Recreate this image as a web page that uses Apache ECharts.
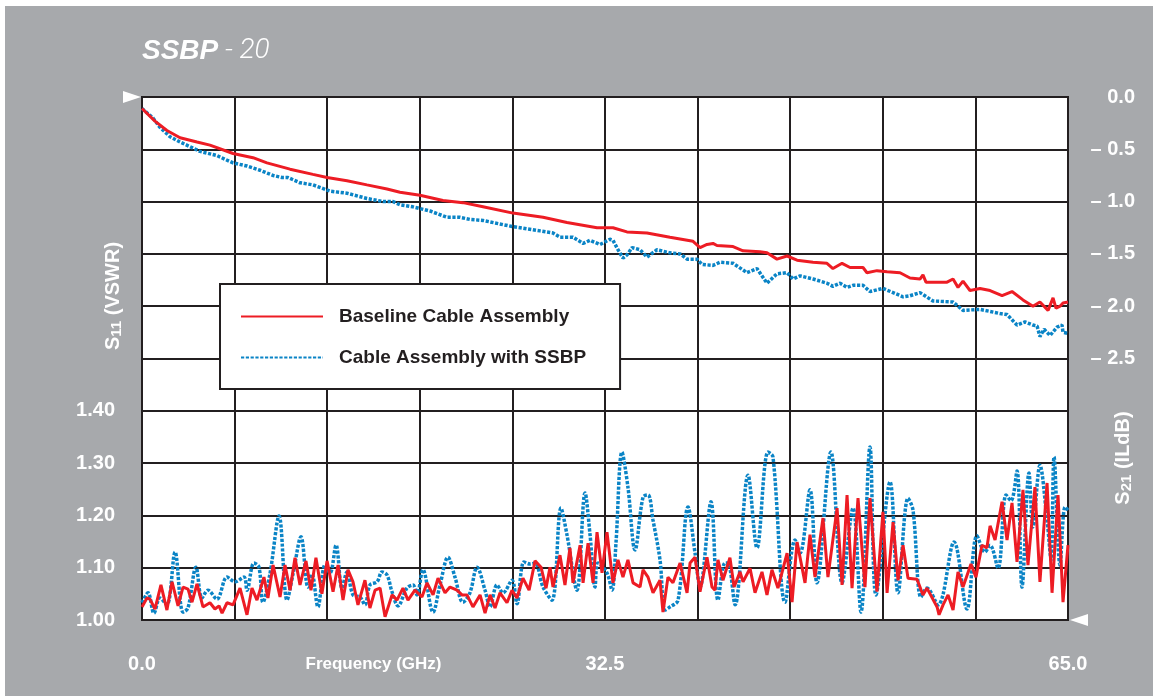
<!DOCTYPE html>
<html>
<head>
<meta charset="utf-8">
<script src="https://cdn.jsdelivr.net/npm/echarts@6/dist/echarts.min.js"></script>
<style>
html,body{margin:0;padding:0;background:#fff;}
#c{position:absolute;left:0;top:0;width:1153px;height:696px;}
</style>
</head>
<body>
<div id="c"></div>
<script>
// ---------------- DATA ----------------
const freqTickLabels = ['0.0', 'Frequency (GHz)', '32.5', '', '65.0'];
const vswrTickLabels = ['1.00', '1.10', '1.20', '1.30', '1.40'];
const ilTickLabels = ['0.0', '\u2013 0.5', '\u2013 1.0', '\u2013 1.5', '\u2013 2.0', '\u2013 2.5'];
const seriesNames = ['Baseline Cable Assembly', 'Cable Assembly with SSBP'];

// S21 insertion loss (dB) vs frequency (GHz), baseline
const baseS21 = [[0,-0.11],[0.91,-0.23],[1.75,-0.32],[2.67,-0.39],[3.86,-0.43],[4.77,-0.46],[6.39,-0.54],[7.79,-0.58],[8.77,-0.63],[10.39,-0.69],[12.00,-0.74],[12.99,-0.77],[14.39,-0.80],[15.79,-0.84],[17.20,-0.88],[18.11,-0.91],[19.51,-0.94],[21.13,-0.99],[22.53,-1.01],[23.94,-1.05],[26.04,-1.11],[28.15,-1.15],[29.83,-1.20],[31.94,-1.25],[33.06,-1.25],[34.04,-1.29],[35.45,-1.30],[37.06,-1.34],[38.68,-1.38],[39.17,-1.44],[39.66,-1.41],[40.08,-1.40],[40.36,-1.42],[41.49,-1.43],[42.19,-1.47],[43.38,-1.48],[43.87,-1.49],[44.57,-1.55],[45.28,-1.52],[45.98,-1.56],[47.10,-1.58],[48.08,-1.59],[48.50,-1.64],[49.14,-1.59],[49.70,-1.63],[50.61,-1.63],[50.89,-1.68],[51.59,-1.66],[52.30,-1.67],[53.21,-1.68],[53.91,-1.73],[54.61,-1.74],[54.82,-1.70],[55.03,-1.77],[56.51,-1.77],[56.93,-1.74],[57.28,-1.82],[57.63,-1.76],[58.12,-1.85],[58.82,-1.83],[59.53,-1.85],[60.37,-1.90],[61.07,-1.86],[61.84,-1.94],[62.54,-2.00],[63.03,-1.96],[63.60,-2.04],[63.95,-1.92],[64.16,-2.02],[64.44,-2.00],[64.65,-1.97],[65.00,-1.96]];

// S21 insertion loss (dB), with SSBP
const ssbpS21 = [[0,-0.11],[0.77,-0.20],[1.26,-0.29],[1.97,-0.38],[2.67,-0.43],[4.07,-0.52],[5.26,-0.56],[6.39,-0.63],[7.37,-0.66],[8.28,-0.70],[9.20,-0.75],[9.83,-0.77],[10.25,-0.77],[11.09,-0.82],[12.00,-0.84],[13.20,-0.90],[14.39,-0.92],[15.79,-0.97],[16.92,-1.00],[17.62,-1.00],[18.11,-1.03],[19.02,-1.05],[20.22,-1.09],[21.41,-1.15],[22.32,-1.15],[23.02,-1.17],[23.94,-1.18],[26.04,-1.24],[27.94,-1.28],[28.85,-1.30],[29.34,-1.34],[30.25,-1.34],[30.96,-1.40],[31.45,-1.37],[32.15,-1.41],[32.85,-1.36],[33.06,-1.37],[33.41,-1.46],[33.76,-1.54],[34.04,-1.51],[34.40,-1.44],[34.96,-1.46],[35.45,-1.53],[36.15,-1.46],[37.06,-1.49],[37.77,-1.50],[38.26,-1.55],[38.96,-1.55],[39.31,-1.60],[40.08,-1.61],[40.57,-1.58],[41.49,-1.59],[42.47,-1.68],[43.17,-1.64],[43.87,-1.78],[44.57,-1.69],[45.28,-1.68],[45.70,-1.74],[46.19,-1.71],[47.10,-1.74],[48.08,-1.78],[48.50,-1.81],[49.00,-1.78],[49.49,-1.82],[49.91,-1.80],[50.61,-1.80],[51.10,-1.86],[52.01,-1.83],[52.72,-1.87],[53.42,-1.91],[53.91,-1.90],[54.61,-1.87],[55.52,-1.95],[56.93,-1.96],[57.63,-2.04],[58.82,-2.03],[60.23,-2.07],[60.72,-2.08],[61.42,-2.18],[61.98,-2.15],[62.54,-2.18],[62.83,-2.19],[63.03,-2.29],[63.32,-2.22],[63.74,-2.28],[64.23,-2.20],[64.58,-2.18],[64.65,-2.25],[65.00,-2.26]];

// S11 VSWR, baseline
const baseS11 = [[0,1.025],[0.35,1.042],[0.56,1.040],[0.91,1.021],[1.33,1.067],[1.75,1.019],[2.11,1.073],[2.53,1.027],[2.88,1.063],[3.23,1.059],[3.51,1.034],[3.86,1.069],[4.28,1.025],[4.77,1.033],[5.12,1.021],[5.41,1.027],[5.62,1.013],[5.97,1.033],[6.39,1.029],[6.88,1.061],[7.37,1.010],[7.72,1.061],[8.07,1.038],[8.56,1.082],[8.84,1.042],[9.20,1.105],[9.69,1.044],[10.04,1.105],[10.39,1.057],[10.74,1.119],[11.09,1.067],[11.51,1.113],[11.86,1.057],[12.21,1.119],[12.63,1.050],[12.99,1.113],[13.41,1.054],[13.76,1.105],[14.11,1.038],[14.46,1.096],[14.81,1.073],[15.16,1.029],[15.65,1.076],[16.00,1.023],[16.36,1.057],[16.71,1.061],[17.06,1.006],[17.55,1.048],[17.90,1.038],[18.32,1.061],[18.67,1.038],[19.16,1.057],[19.65,1.044],[20.01,1.071],[20.43,1.048],[20.78,1.080],[21.27,1.052],[21.62,1.063],[22.11,1.057],[22.46,1.048],[22.81,1.048],[23.23,1.025],[23.73,1.048],[24.08,1.013],[24.43,1.048],[24.78,1.023],[25.13,1.052],[25.62,1.033],[25.97,1.057],[26.32,1.042],[26.74,1.080],[27.17,1.057],[27.59,1.113],[28.01,1.101],[28.36,1.061],[28.64,1.101],[28.85,1.063],[29.34,1.124],[29.69,1.067],[30.04,1.138],[30.25,1.071],[30.75,1.143],[30.96,1.071],[31.31,1.147],[31.66,1.071],[31.94,1.168],[32.29,1.090],[32.64,1.168],[33.06,1.071],[33.41,1.115],[33.76,1.082],[34.11,1.115],[34.47,1.071],[34.96,1.063],[35.17,1.096],[35.52,1.082],[35.87,1.052],[36.36,1.076],[36.57,1.015],[36.92,1.082],[37.27,1.071],[37.77,1.109],[38.26,1.052],[38.47,1.109],[38.82,1.120],[39.17,1.054],[39.66,1.120],[40.01,1.063],[40.22,1.057],[40.43,1.115],[40.78,1.076],[41.27,1.119],[41.56,1.063],[41.98,1.092],[42.19,1.073],[42.68,1.099],[43.03,1.052],[43.52,1.092],[43.87,1.048],[44.22,1.096],[44.64,1.061],[45.28,1.128],[45.63,1.034],[45.98,1.149],[46.54,1.071],[46.89,1.163],[47.24,1.082],[47.80,1.195],[48.15,1.082],[48.79,1.214],[49.14,1.067],[49.49,1.239],[49.84,1.061],[50.26,1.233],[50.75,1.063],[51.10,1.233],[51.59,1.054],[52.01,1.207],[52.30,1.052],[52.72,1.187],[53.07,1.076],[53.42,1.143],[53.77,1.080],[54.40,1.078],[54.82,1.048],[55.10,1.061],[55.81,1.025],[55.95,1.010],[56.23,1.029],[56.58,1.048],[56.93,1.019],[57.28,1.092],[57.63,1.063],[58.19,1.107],[58.54,1.082],[58.96,1.143],[59.31,1.138],[59.53,1.180],[59.88,1.153],[60.37,1.226],[60.72,1.153],[61.07,1.224],[61.42,1.111],[61.84,1.249],[62.19,1.105],[62.68,1.254],[63.03,1.073],[63.53,1.262],[63.88,1.052],[64.30,1.239],[64.65,1.034],[65.00,1.143]];

// S11 VSWR, with SSBP
const ssbpS11 = [[0,1.033],[0.42,1.052],[0.84,1.013],[1.26,1.042],[1.75,1.029],[2.32,1.130],[2.88,1.015],[3.23,1.023],[3.79,1.101],[4.21,1.042],[4.63,1.057],[5.26,1.040],[5.97,1.082],[6.53,1.073],[7.16,1.082],[7.37,1.057],[7.86,1.109],[8.21,1.101],[8.49,1.034],[8.98,1.088],[9.62,1.199],[10.18,1.038],[10.60,1.088],[11.16,1.159],[11.65,1.063],[11.93,1.088],[12.35,1.025],[12.85,1.105],[13.20,1.090],[13.62,1.143],[14.04,1.061],[14.39,1.092],[14.81,1.048],[15.30,1.044],[15.65,1.029],[16.00,1.067],[16.50,1.073],[16.85,1.092],[17.20,1.086],[17.55,1.054],[17.97,1.027],[18.60,1.061],[19.02,1.067],[19.30,1.048],[19.72,1.096],[20.43,1.015],[20.92,1.067],[21.48,1.120],[21.97,1.082],[22.53,1.034],[23.02,1.052],[23.52,1.101],[24.08,1.057],[24.43,1.025],[24.92,1.067],[25.34,1.052],[25.97,1.076],[26.32,1.031],[26.81,1.111],[27.24,1.107],[27.59,1.109],[28.15,1.063],[28.78,1.038],[29.41,1.214],[29.83,1.163],[30.53,1.057],[31.10,1.243],[31.45,1.163],[31.80,1.063],[32.01,1.109],[32.64,1.090],[32.99,1.057],[33.27,1.147],[33.69,1.321],[34.11,1.254],[34.61,1.134],[35.17,1.235],[35.52,1.239],[35.87,1.191],[36.36,1.115],[36.71,1.019],[37.06,1.025],[37.63,1.038],[38.33,1.216],[38.82,1.128],[39.17,1.063],[39.94,1.226],[40.43,1.038],[40.92,1.109],[41.13,1.109],[41.63,1.029],[42.54,1.277],[43.17,1.138],[43.94,1.321],[44.29,1.312],[45.14,1.034],[45.84,1.153],[46.19,1.128],[46.89,1.249],[47.38,1.071],[48.36,1.321],[49.14,1.071],[49.91,1.214],[50.47,1.015],[51.10,1.331],[51.52,1.048],[52.51,1.264],[53.07,1.052],[53.77,1.233],[54.12,1.210],[54.68,1.044],[55.10,1.061],[55.88,1.029],[57.00,1.149],[57.91,1.021],[58.61,1.161],[59.17,1.130],[59.53,1.143],[60.09,1.099],[60.65,1.239],[61.00,1.228],[61.42,1.285],[61.77,1.063],[62.26,1.281],[62.54,1.178],[63.03,1.296],[63.53,1.191],[63.81,1.115],[64.02,1.312],[64.44,1.105],[64.79,1.216],[65.00,1.210]];

// ---------------- CHART ----------------
const FONT = "'Liberation Sans', Arial, sans-serif";
const DARK = '#231f20';
const GRAY = '#a7a9ac';
const RED = '#ed1c24';
const BLUE = '#0a84c6';

const chart = echarts.init(document.getElementById('c'), null, {renderer: 'canvas'});

const redLine = {color: RED, width: 3};
const blueLine = {color: BLUE, width: 3.5, type: [3.2, 1.6]};

const option = {
  animation: false,
  backgroundColor: GRAY,
  textStyle: {fontFamily: FONT},
  grid: {left: 142, top: 97, width: 926, height: 523, show: true, backgroundColor: '#fff', borderColor: DARK, borderWidth: 2, containLabel: false},
  legend: {
    data: seriesNames,
    orient: 'vertical',
    left: 220, top: 284,
    backgroundColor: '#fff', borderColor: DARK, borderWidth: 2,
    padding: [23, 34, 22, 20],
    itemWidth: 82, itemHeight: 14, itemGap: 22,
    selectedMode: false,
    itemStyle: {opacity: 0, borderWidth: 0},
    textStyle: {fontSize: 19, fontWeight: 'bold', color: DARK, fontFamily: FONT, padding: [0, 0, 0, 11]}
  },
  xAxis: [
    {
      type: 'value', min: 0, max: 65, interval: 6.5,
      axisLine: {show: true, lineStyle: {color: DARK, width: 2}},
      axisTick: {show: true, inside: false, length: 10, lineStyle: {color: DARK, width: 2}},
      axisLabel: {show: false},
      splitLine: {show: true, lineStyle: {color: DARK, width: 2}}
    },
    {
      type: 'value', min: 0, max: 65, interval: 16.25, position: 'bottom',
      axisLine: {show: false}, axisTick: {show: false}, splitLine: {show: false},
      axisLabel: {
        show: true, margin: 34, showMinLabel: true, showMaxLabel: true,
        formatter: function (v) {
          const i = Math.round(v / 16.25);
          const t = freqTickLabels[i] || '';
          if (!t) return '';
          return i === 1 ? '{t|' + t + '}' : '{n|' + t + '}';
        },
        rich: {
          n: {fontSize: 20, fontWeight: 'bold', color: '#fff', fontFamily: FONT, lineHeight: 20},
          t: {fontSize: 17, fontWeight: 'bold', color: '#fff', fontFamily: FONT, lineHeight: 20}
        }
      }
    }
  ],
  yAxis: [
    {
      type: 'value', min: 1, max: 2, interval: 0.1, position: 'left',
      axisLine: {show: false}, axisTick: {show: false},
      splitLine: {show: true, lineStyle: {color: DARK, width: 2}},
      axisLabel: {
        margin: 27, fontSize: 20, fontWeight: 'bold', color: '#fff', fontFamily: FONT,
        showMinLabel: true, showMaxLabel: true,
        formatter: function (v) { const i = Math.round((v - 1) / 0.1); return vswrTickLabels[i] || ''; }
      }
    },
    {
      type: 'value', min: -5, max: 0, interval: 0.5, position: 'right',
      axisLine: {show: false}, axisTick: {show: false}, splitLine: {show: false},
      axisLabel: {
        margin: 67, align: 'right', fontSize: 20, fontWeight: 'bold', color: '#fff', fontFamily: FONT,
        showMinLabel: true, showMaxLabel: true,
        formatter: function (v) { const i = Math.round(-v / 0.5); return ilTickLabels[i] || ''; }
      }
    }
  ],
  series: [
    {name: seriesNames[1], type: 'line', xAxisIndex: 0, yAxisIndex: 1, data: ssbpS21, symbol: 'none', lineStyle: blueLine, itemStyle: {color: BLUE}, z: 3},
    {name: seriesNames[1], type: 'line', xAxisIndex: 0, yAxisIndex: 0, data: ssbpS11, symbol: 'none', smooth: 0.35, lineStyle: blueLine, itemStyle: {color: BLUE}, z: 3},
    {name: seriesNames[0], type: 'line', xAxisIndex: 0, yAxisIndex: 1, data: baseS21, symbol: 'none', lineStyle: redLine, itemStyle: {color: RED}, z: 4},
    {name: seriesNames[0], type: 'line', xAxisIndex: 0, yAxisIndex: 0, data: baseS11, symbol: 'none', lineStyle: redLine, itemStyle: {color: RED}, z: 4}
  ],
  graphic: [
    {type: 'rect', shape: {x: 0, y: 0, width: 1153, height: 6}, style: {fill: '#fff'}, silent: true},
    {type: 'rect', shape: {x: 0, y: 0, width: 5, height: 696}, style: {fill: '#fff'}, silent: true},
    {type: 'polygon', shape: {points: [[123, 91], [141, 97], [123, 103]]}, style: {fill: '#fff'}, silent: true},
    {type: 'polygon', shape: {points: [[1088, 614], [1070, 620], [1088, 626]]}, style: {fill: '#fff'}, silent: true},
    {
      type: 'text', x: 142, y: 51, silent: true,
      style: {
        text: '{b|SSBP}{l| - 20}', verticalAlign: 'middle', align: 'left',
        rich: {
          b: {fontSize: 28, fontWeight: 'bold', fontStyle: 'italic', fill: '#fff', fontFamily: FONT},
          l: {fontSize: 28, fontWeight: 300, fontStyle: 'italic', fill: '#fff', fontFamily: "Roboto, 'Liberation Sans', sans-serif"}
        }
      }
    },
    {
      type: 'text', x: 113, y: 296, rotation: Math.PI / 2, silent: true,
      style: {
        text: '{a|S}{s|11}{a| (VSWR)}', align: 'center', verticalAlign: 'middle',
        rich: {
          a: {fontSize: 20, fontWeight: 'bold', fill: '#fff', fontFamily: FONT, lineHeight: 22},
          s: {fontSize: 15, fontWeight: 'bold', fill: '#fff', fontFamily: FONT, lineHeight: 22, padding: [7, 0, 0, 0]}
        }
      }
    },
    {
      type: 'text', x: 1123, y: 458, rotation: Math.PI / 2, silent: true,
      style: {
        text: '{a|S}{s|21}{a| (ILdB)}', align: 'center', verticalAlign: 'middle',
        rich: {
          a: {fontSize: 20, fontWeight: 'bold', fill: '#fff', fontFamily: FONT, lineHeight: 22},
          s: {fontSize: 15, fontWeight: 'bold', fill: '#fff', fontFamily: FONT, lineHeight: 22, padding: [7, 0, 0, 0]}
        }
      }
    }
  ]
};
chart.setOption(option);
</script>
</body>
</html>
